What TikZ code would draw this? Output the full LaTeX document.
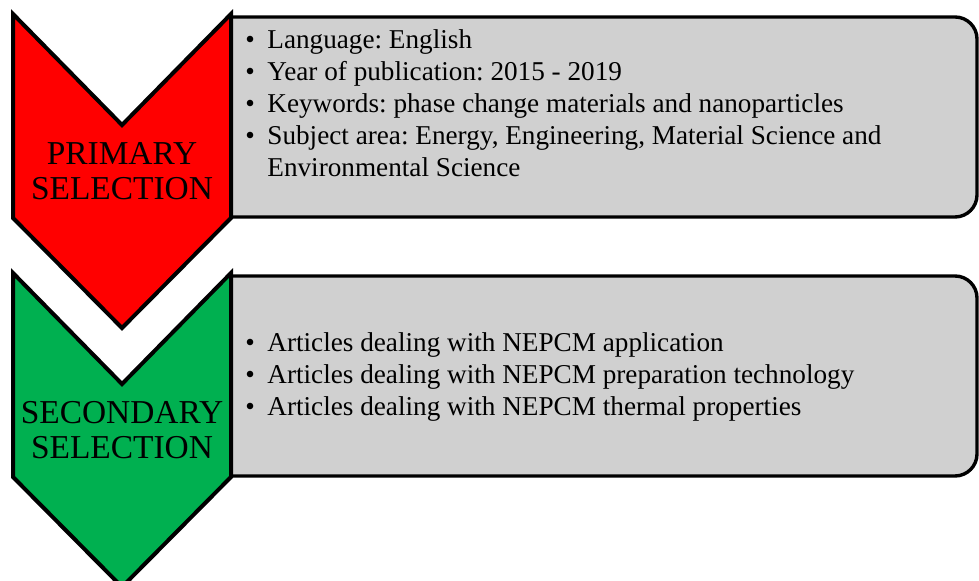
\documentclass[tikz,border=0pt]{standalone}
\usepackage{fontspec}
\setmainfont{Liberation Serif}
\frenchspacing
\definecolor{primred}{RGB}{255,0,0}
\definecolor{secgreen}{RGB}{0,176,80}
\definecolor{boxgray}{RGB}{208,208,208}

\newcommand{\bitem}{\makebox[11pt][l]{\textbullet}}

\begin{document}
\begin{tikzpicture}[
      x=0.5pt, y=-0.5pt,
      chevron/.style={draw, line width=2pt, line join=miter},
      listbox/.style={draw, fill=boxgray, line width=1.7pt},
      stagelabel/.style={
        align=center, inner sep=0pt,
        font=\fontsize{16.7}{17.5}\selectfont
      },
      itemtext/.style={
        align=left, inner sep=0pt, anchor=west,
        font=\fontsize{13.6}{16}\selectfont
      }
    ]
    \useasboundingbox (0,0) rectangle (979,581);

    % grey list box behind each chevron
    \foreach \dy/\col in {0/primred, 259/secgreen} {
      \draw[listbox] (600,{17+\dy}) [rounded corners=11pt] -- (977,{17+\dy}) -- (977,{217+\dy}) -- (600,{217+\dy})
        [sharp corners] -- (231,{217+\dy}) -- (231,{17+\dy}) -- cycle;
      \draw[chevron, fill=\col] (13,{14+\dy}) -- (122,{125+\dy}) -- (231,{14+\dy}) -- (231,{218+\dy})
        -- (122,{328+\dy}) -- (13,{218+\dy}) -- cycle;
    }

    \node[stagelabel] (primary)   at (122,171) {PRIMARY\\SELECTION};
    \node[stagelabel] (secondary) at (122,430) {SECONDARY\\SELECTION};

    \node[itemtext] (primlist) at (245,103) {\bitem Language: English\\
      \bitem Year of publication: 2015 - 2019\\
      \bitem Keywords: phase change materials and nanoparticles\\
      \bitem Subject area: Energy, Engineering, Material Science and\\
      \hspace*{11pt}Environmental Science};
    \node[itemtext] (seclist) at (245,377) {\bitem Articles dealing with NEPCM application\\
      \bitem Articles dealing with NEPCM preparation technology\\
      \bitem Articles dealing with NEPCM thermal properties};
  \end{tikzpicture}
\end{document}
